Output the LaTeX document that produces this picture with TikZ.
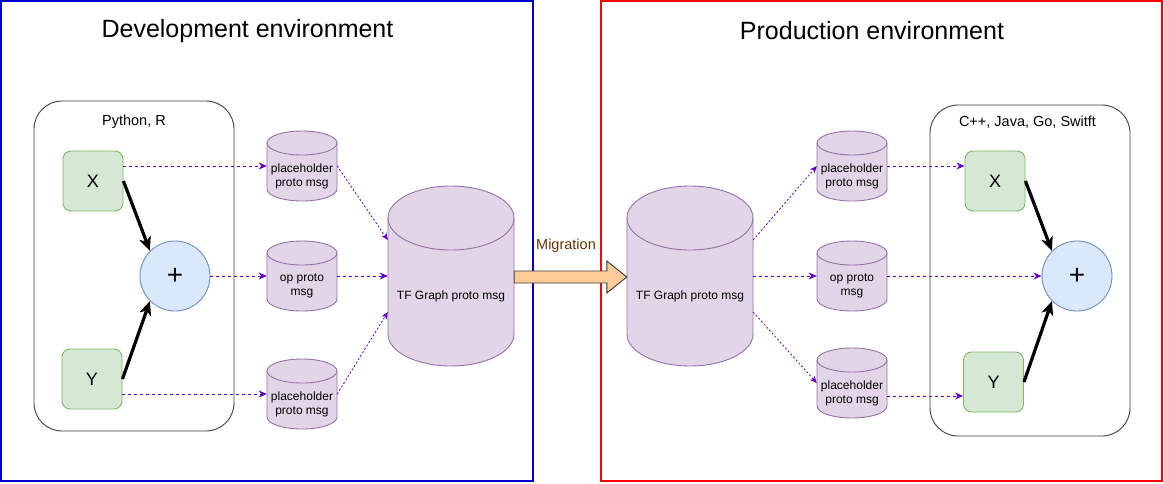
\documentclass[tikz,border=0pt]{standalone}
\usepackage{fontspec}
\setmainfont{Liberation Sans}
\usetikzlibrary{arrows.meta,calc}
\definecolor{cylfill}{HTML}{E1D5E7}
\definecolor{cylline}{HTML}{9673A6}
\definecolor{grfill}{HTML}{D5E8D4}
\definecolor{grline}{HTML}{82B366}
\definecolor{blfill}{HTML}{DAE8FC}
\definecolor{blline}{HTML}{6C8EBF}
\definecolor{arrpurple}{HTML}{6200C4}
\definecolor{migfill}{HTML}{FFCC99}
\definecolor{migline}{HTML}{36393D}
\definecolor{migtext}{HTML}{663300}
\definecolor{devblue}{HTML}{0000CC}
\definecolor{prodred}{HTML}{FF0000}
\tikzset{
  cylbound/.style={draw=none,inner sep=0pt,shape=rectangle},
  cylstyle/.style={fill=cylfill,draw=cylline,line width=0.9pt},
  smalltext/.style={align=center,inner sep=0pt,font=\fontsize{12}{14}\selectfont},
  gbox/.style={fill=grfill,draw=grline,line width=0.9pt,rounded corners=8pt,minimum width=60pt,minimum height=60pt,inner sep=0pt,font=\fontsize{18}{20}\selectfont},
  opcirc/.style={circle,fill=blfill,draw=blline,line width=0.9pt,minimum size=70pt,inner sep=0pt,font=\fontsize{28}{30}\selectfont},
  langbox/.style={draw=black!75,line width=0.9pt,rounded corners=28pt,inner sep=0pt},
  envbox/.style={line width=2pt,inner sep=0pt},
  titletext/.style={inner sep=0pt,font=\fontsize{25}{28}\selectfont},
  langtext/.style={inner sep=0pt,font=\fontsize{14.5}{17}\selectfont},
  parrow/.style={draw=arrpurple,line width=1pt,dash pattern=on 3pt off 3pt,-{Stealth[length=8pt,width=7pt,inset=2.5pt]}},
  pdiag/.style={draw=arrpurple,line width=0.8pt,dash pattern=on 2pt off 2pt,-{Stealth[length=7pt,width=6pt,inset=2pt]}},
  barrow/.style={draw=black,line width=3.2pt,-{Stealth[length=14pt,width=12pt,inset=4pt]}},
}
% name L T R B rx ry texty text
\newcommand\mycyl[9]{%
  \node[cylbound,minimum width={#4-#2},minimum height={#5-#3}] (#1) at ({(#2+#4)/2},{(#3+#5)/2}) {};
  \draw[cylstyle] (#2,{#3+#7}) -- (#2,{#5-#7}) arc[start angle=180,end angle=360,x radius=#6pt,y radius=#7pt]
     -- (#4,{#3+#7}) arc[start angle=0,end angle=180,x radius=#6pt,y radius=#7pt] -- cycle;
  \draw[draw=cylline,line width=0.9pt] (#2,{#3+#7}) arc[start angle=180,end angle=360,x radius=#6pt,y radius=#7pt];
  \node[smalltext] (#1-t) at ({(#2+#4)/2},#8) {#9};
}
\begin{document}
\begin{tikzpicture}[x=1pt,y=-1pt]
\useasboundingbox (0,0) rectangle (1164,483);
\fill[white] (0,0) rectangle (1164,483);

% environments
\node[envbox,draw=devblue,minimum width=532pt,minimum height=480pt] (dev) at (267,241) {};
\node[envbox,draw=prodred,minimum width=561pt,minimum height=480pt] (prod) at (881.5,241) {};
\node[titletext] (devtitle) at (247.5,31) {Development environment};
\node[titletext] (prodtitle) at (872,31) {Production environment};

% language boxes
\node[langbox,minimum width=200pt,minimum height=330pt] (lang1) at (134,266) {};
\node[langtext] (lang1t) at (134,122) {Python, R};
\node[langbox,minimum width=200pt,minimum height=331pt] (lang2) at (1030,270.5) {};
\node[langtext] (lang2t) at (1027.5,122) {C++, Java, Go, Switft};

% dev graph
\node[gbox] (x1) at (93,181) {X};
\node[gbox] (y1) at (92,379) {Y};
\node[opcirc] (plus1) at (175,276) {+};

% prod graph
\node[gbox] (x2) at (995,181) {X};
\node[gbox] (y2) at (993.5,382) {Y};
\node[opcirc] (plus2) at (1077,276) {+};

% cylinders
\mycyl{p1}{267}{131}{337}{201}{35}{12}{176}{placeholder\\proto msg}
\mycyl{op1}{267}{241}{337}{311}{35}{12}{286}{op proto\\msg}
\mycyl{p3}{267}{359}{337}{429}{35}{12}{404}{placeholder\\proto msg}
\mycyl{tf1}{388}{186}{514}{366}{63}{32}{296}{TF Graph proto msg}
\mycyl{tf2}{627}{186}{753}{366}{63}{32}{296}{TF Graph proto msg}
\mycyl{p4}{817}{131}{887}{201}{35}{12}{176}{placeholder\\proto msg}
\mycyl{op2}{817}{241}{887}{311}{35}{12}{286}{op proto\\msg}
\mycyl{p6}{817}{348}{887}{418}{35}{12}{393}{placeholder\\proto msg}

% migration arrow
\draw[fill=migfill,draw=migline,line width=0.9pt]
  ([yshift=5pt]tf1.east) -- ([xshift=-20pt,yshift=5pt]tf2.west) -- ([xshift=-20pt,yshift=15pt]tf2.west)
  -- ([yshift=-1pt]tf2.west) -- ([xshift=-20pt,yshift=-17pt]tf2.west) -- ([xshift=-20pt,yshift=-7pt]tf2.west)
  -- ([yshift=-7pt]tf1.east) -- cycle;
\node[inner sep=0pt,text=migtext,font=\fontsize{14.5}{17}\selectfont] (migt) at (566,246) {Migration};

% dev connectors
\draw[parrow] (x1.east |- p1.west) -- (p1.west);
\draw[parrow] (plus1.east) -- (op1.west);
\draw[parrow] (y1.east |- p3.west) -- (p3.west);
\draw[pdiag] (p1.east) -- ([yshift=36pt]tf1.west);
\draw[parrow] (op1.east) -- (tf1.west);
\draw[pdiag] (p3.east) -- ([yshift=-36pt]tf1.west);
\draw[barrow] (x1.east) -- (plus1.135);
\draw[barrow] (y1.east) -- (plus1.225);

% prod connectors
\draw[pdiag] ([yshift=36pt]tf2.east) -- (p4.west);
\draw[parrow] (tf2.east) -- (op2.west);
\draw[pdiag] ([yshift=-36pt]tf2.east) -- (p6.west);
\draw[parrow] (p4.east) -- (p4.east -| x2.west);
\draw[parrow] (op2.east) -- (plus2.west);
\draw[parrow] ([yshift=-13pt]p6.east) -- ([yshift=-13pt]p6.east -| y2.west);
\draw[barrow] (x2.east) -- (plus2.135);
\draw[barrow] (y2.east) -- (plus2.225);
\end{tikzpicture}
\end{document}
